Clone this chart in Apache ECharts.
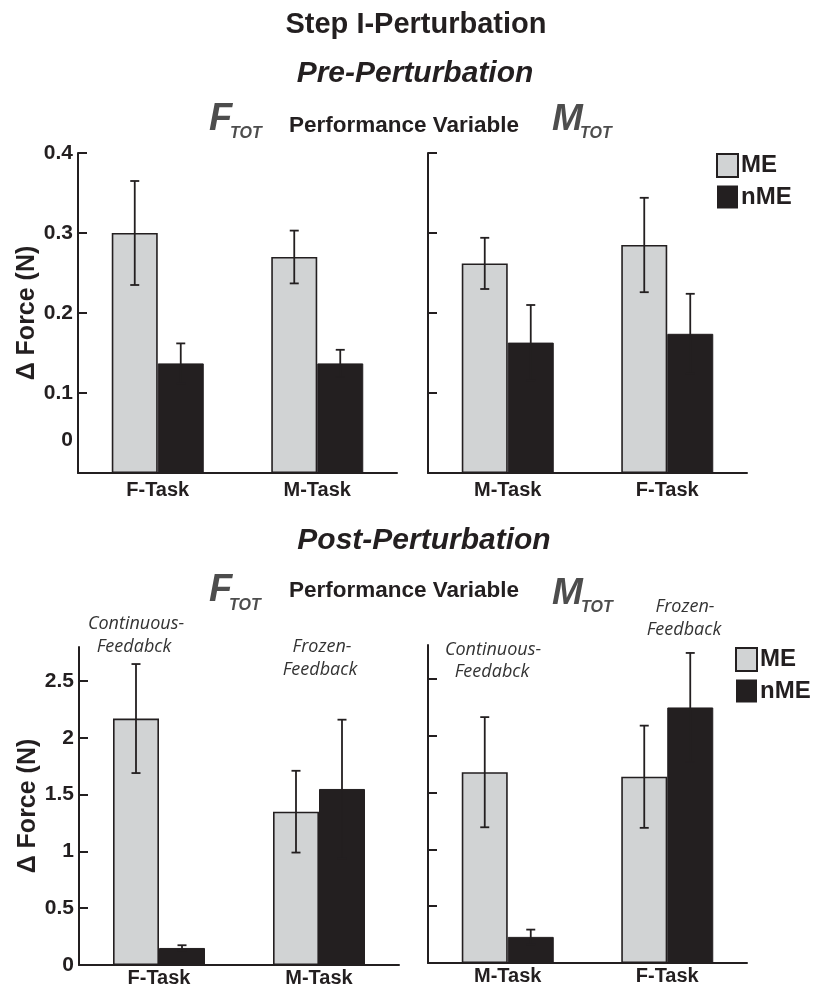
<!DOCTYPE html>
<html><head><meta charset="utf-8">
<script src="https://cdn.jsdelivr.net/npm/echarts@6/dist/echarts.min.js"></script>
<style>html,body{margin:0;padding:0;background:#fff}#c{width:818px;height:988px}</style>
</head><body><div id="c"></div>
<script>
// ---- data ----
const preF_categories = ['F-Task', 'M-Task'];
const preF_ME = [0.300, 0.270];
const preF_ME_err = [0.065, 0.033];
const preF_nME = [0.137, 0.137];
const preF_nME_err = [0.025, 0.017];

const preM_categories = ['M-Task', 'F-Task'];
const preM_ME = [0.262, 0.285];
const preM_ME_err = [0.032, 0.059];
const preM_nME = [0.163, 0.174];
const preM_nME_err = [0.047, 0.050];

const postF_categories = ['F-Task', 'M-Task'];
const postF_ME = [2.17, 1.35];
const postF_ME_err = [0.48, 0.36];
const postF_nME = [0.15, 1.55];
const postF_nME_err = [0.024, 0.61];

const postM_categories = ['M-Task', 'F-Task'];
const postM_ME = [1.68, 1.64];
const postM_ME_err = [0.485, 0.45];
const postM_nME = [0.23, 2.25];
const postM_nME_err = [0.064, 0.48];

const preTickValues = [0.1, 0.2, 0.3, 0.4];
const postTickValues = [0.5, 1, 1.5, 2, 2.5];
const postLabelValues = [0, 0.5, 1, 1.5, 2, 2.5];
const seriesNames = ['ME', 'nME'];

// ---- style ----
const FONT = '"Liberation Sans", Arial, Helvetica, sans-serif';
const INK = '#231f20';
const GREY = '#d1d3d4';
const BAR_W = 46;

const chart = echarts.init(document.getElementById('c'), null, {renderer: 'canvas'});

const grids = [
  {left: 78, top: 153, width: 319, height: 320},
  {left: 428, top: 153, width: 319, height: 320},
  {left: 79, top: 647, width: 320, height: 318},
  {left: 428, top: 645, width: 319, height: 318}
].map(g => Object.assign({outerBoundsMode: 'none', containLabel: false}, g));

const cats = [preF_categories, preM_categories, postF_categories, postM_categories];
const xAxes = cats.map((c, i) => ({
  type: 'category', gridIndex: i, data: c,
  axisLine: {lineStyle: {color: INK, width: 2}},
  axisTick: {show: false},
  axisLabel: {fontFamily: FONT, fontWeight: 'bold', fontSize: 20, color: INK, margin: i < 2 ? 7 : 3}
}));

function yAxis(i, pre, showLabels) {
  const ax = {
    type: 'value', gridIndex: i, min: 0, max: pre ? 0.4 : 2.8,
    splitLine: {show: false},
    axisLine: {show: true, lineStyle: {color: INK, width: 2}},
    axisTick: {show: true, inside: true, length: 9, lineStyle: {color: INK, width: 2},
               customValues: pre ? preTickValues : postTickValues},
    axisLabel: {show: showLabels, fontFamily: FONT, fontWeight: 'bold', fontSize: 21, color: INK, margin: 5,
                customValues: pre ? preTickValues : postLabelValues}
  };
  if (showLabels) {
    ax.name = '\u0394 Force (N)';
    ax.nameLocation = 'middle';
    ax.nameGap = 37;
    ax.nameTextStyle = {fontFamily: FONT, fontWeight: 'bold', fontSize: 25, color: INK};
  }
  return ax;
}
const yAxes = [yAxis(0, true, true), yAxis(1, true, false), yAxis(2, false, true), yAxis(3, false, false)];

function barSeries(i, name, vals) {
  const isME = name === 'ME';
  return {
    type: 'bar', name, xAxisIndex: i, yAxisIndex: i, data: vals,
    barWidth: BAR_W, barGap: '0%',
    itemStyle: isME ? {color: GREY, borderColor: INK, borderWidth: 1.6} : {color: INK, borderColor: INK, borderWidth: 1},
    emphasis: {disabled: true}
  };
}
function errSeries(i, vals, errs, side) {
  return {
    type: 'custom', xAxisIndex: i, yAxisIndex: i, z: 10, silent: true,
    encode: {x: 0, y: [1, 2]},
    data: vals.map((v, k) => [k, v - errs[k], v + errs[k]]),
    renderItem(params, api) {
      const lo = api.coord([api.value(0), api.value(1)]);
      const hi = api.coord([api.value(0), api.value(2)]);
      const x = lo[0] + side * BAR_W / 2;
      const cap = 4.5;
      const st = {stroke: INK, lineWidth: 1.8};
      return {type: 'group', children: [
        {type: 'line', shape: {x1: x, y1: lo[1], x2: x, y2: hi[1]}, style: st},
        {type: 'line', shape: {x1: x - cap, y1: lo[1], x2: x + cap, y2: lo[1]}, style: st},
        {type: 'line', shape: {x1: x - cap, y1: hi[1], x2: x + cap, y2: hi[1]}, style: st}
      ]};
    }
  };
}

const panels = [
  [preF_ME, preF_ME_err, preF_nME, preF_nME_err],
  [preM_ME, preM_ME_err, preM_nME, preM_nME_err],
  [postF_ME, postF_ME_err, postF_nME, postF_nME_err],
  [postM_ME, postM_ME_err, postM_nME, postM_nME_err]
];
const series = [];
panels.forEach((p, i) => {
  series.push(barSeries(i, seriesNames[0], p[0]));
  series.push(barSeries(i, seriesNames[1], p[2]));
  series.push(errSeries(i, p[0], p[1], -1));
  series.push(errSeries(i, p[2], p[3], 1));
});

function legend(left, top) {
  return {
    orient: 'vertical', left, top, padding: 0, itemWidth: 21, itemHeight: 23, itemGap: 7, icon: 'rect',
    selectedMode: false,
    textStyle: {fontFamily: FONT, fontWeight: 'bold', fontSize: 24, color: INK, padding: [0, 0, 0, -2]},
    data: [
      {name: seriesNames[0], itemStyle: {color: GREY, borderColor: INK, borderWidth: 2}},
      {name: seriesNames[1], itemStyle: {color: INK, borderColor: INK, borderWidth: 0}}
    ]
  };
}

function txt(text, x, y, size, opts) {
  return {type: 'text', x, y, silent: true, style: Object.assign({
    text, fontFamily: FONT, fontSize: size, fontWeight: 'bold', fill: INK,
    align: 'center', verticalAlign: 'middle'}, opts || {})};
}
const TOTC = '#4d4d4d';
const ANN = {fontFamily: '"Open Sans", "Noto Sans", sans-serif', fontWeight: 'normal', fontStyle: 'italic', fill: '#333'};
const graphic = [
  txt('Step I-Perturbation', 416, 25, 29),
  txt('Pre-Perturbation', 415, 74, 30, {fontStyle: 'italic'}),
  txt('F', 209, 120, 38, {fontStyle: 'italic', fill: TOTC, align: 'left'}),
  txt('TOT', 230, 134, 16, {fontStyle: 'italic', fill: TOTC, align: 'left'}),
  txt('Performance Variable', 404, 126, 22.5),
  txt('M', 552, 120, 37, {fontStyle: 'italic', fill: TOTC, align: 'left'}),
  txt('TOT', 580, 134, 16, {fontStyle: 'italic', fill: TOTC, align: 'left'}),
  txt('0', 73, 440, 21, {align: 'right'}),

  txt('Post-Perturbation', 424, 541, 30, {fontStyle: 'italic'}),
  txt('F', 209, 591, 38, {fontStyle: 'italic', fill: TOTC, align: 'left'}),
  txt('TOT', 229, 606, 16, {fontStyle: 'italic', fill: TOTC, align: 'left'}),
  txt('Performance Variable', 404, 591, 22.5),
  txt('M', 552, 594, 37, {fontStyle: 'italic', fill: TOTC, align: 'left'}),
  txt('TOT', 581, 608, 16, {fontStyle: 'italic', fill: TOTC, align: 'left'}),

  txt('Continuous-', 136, 624, 18, ANN),
  txt('Feedabck', 134, 647, 18, ANN),
  txt('Frozen-', 322, 647, 18, ANN),
  txt('Feedback', 320, 670, 18, ANN),
  txt('Continuous-', 493, 650, 18, ANN),
  txt('Feedabck', 492, 672, 18, ANN),
  txt('Frozen-', 685, 607, 18, ANN),
  txt('Feedback', 684, 630, 18, ANN)
];

chart.setOption({
  animation: false,
  backgroundColor: '#fff',
  grid: grids,
  xAxis: xAxes,
  yAxis: yAxes,
  legend: [legend(716, 153), legend(735, 647)],
  series,
  graphic
});
</script>
</body></html>
